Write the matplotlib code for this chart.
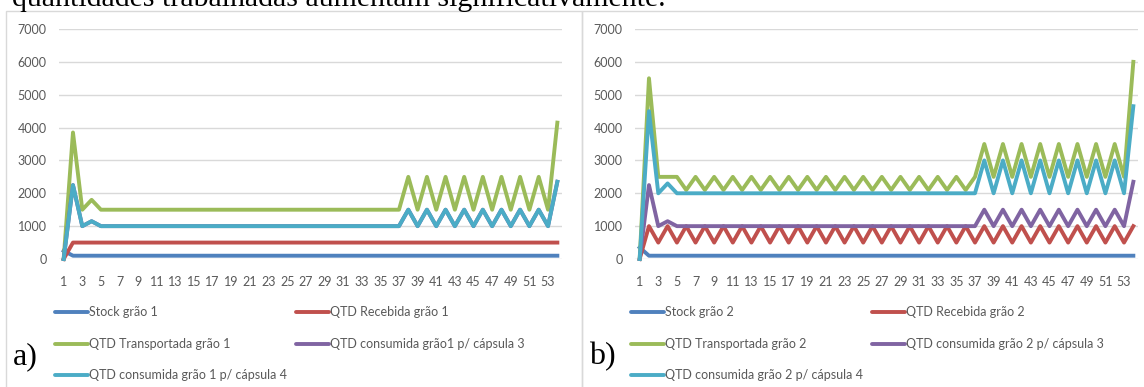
import matplotlib
matplotlib.use("Agg")
import matplotlib.pyplot as plt
from matplotlib.patches import Rectangle
from matplotlib.lines import Line2D

# dados (semanas 1..54)
semanas = list(range(1, 55))
yticks = [0, 1000, 2000, 3000, 4000, 5000, 6000, 7000]
xticks = list(range(1, 54, 2))

stock1 = [250, 100, 100, 100, 100, 100, 100, 100, 100, 100, 100, 100, 100, 100, 100, 100, 100, 100,
          100, 100, 100, 100, 100, 100, 100, 100, 100, 100, 100, 100, 100, 100, 100, 100, 100, 100,
          100, 100, 100, 100, 100, 100, 100, 100, 100, 100, 100, 100, 100, 100, 100, 100, 100, 100]
receb1 = [0, 500, 500, 500, 500, 500, 500, 500, 500, 500, 500, 500, 500, 500, 500, 500, 500, 500,
          500, 500, 500, 500, 500, 500, 500, 500, 500, 500, 500, 500, 500, 500, 500, 500, 500, 500,
          500, 500, 500, 500, 500, 500, 500, 500, 500, 500, 500, 500, 500, 500, 500, 500, 500, 500]
transp1 = [0, 3850, 1500, 1800, 1500, 1500, 1500, 1500, 1500, 1500, 1500, 1500, 1500, 1500, 1500, 1500, 1500, 1500,
           1500, 1500, 1500, 1500, 1500, 1500, 1500, 1500, 1500, 1500, 1500, 1500, 1500, 1500, 1500, 1500, 1500, 1500,
           1500, 2500, 1500, 2500, 1500, 2500, 1500, 2500, 1500, 2500, 1500, 2500, 1500, 2500, 1500, 2500, 1500, 4150]
cons3_1 = [0, 2250, 1000, 1150, 1000, 1000, 1000, 1000, 1000, 1000, 1000, 1000, 1000, 1000, 1000, 1000, 1000, 1000,
           1000, 1000, 1000, 1000, 1000, 1000, 1000, 1000, 1000, 1000, 1000, 1000, 1000, 1000, 1000, 1000, 1000, 1000,
           1000, 1500, 1000, 1500, 1000, 1500, 1000, 1500, 1000, 1500, 1000, 1500, 1000, 1500, 1000, 1500, 1000, 2350]
cons4_1 = [0, 2250, 1000, 1150, 1000, 1000, 1000, 1000, 1000, 1000, 1000, 1000, 1000, 1000, 1000, 1000, 1000, 1000,
           1000, 1000, 1000, 1000, 1000, 1000, 1000, 1000, 1000, 1000, 1000, 1000, 1000, 1000, 1000, 1000, 1000, 1000,
           1000, 1500, 1000, 1500, 1000, 1500, 1000, 1500, 1000, 1500, 1000, 1500, 1000, 1500, 1000, 1500, 1000, 2350]

stock2 = [350, 100, 100, 100, 100, 100, 100, 100, 100, 100, 100, 100, 100, 100, 100, 100, 100, 100,
          100, 100, 100, 100, 100, 100, 100, 100, 100, 100, 100, 100, 100, 100, 100, 100, 100, 100,
          100, 100, 100, 100, 100, 100, 100, 100, 100, 100, 100, 100, 100, 100, 100, 100, 100, 100]
receb2 = [0, 1000, 500, 1000, 500, 1000, 500, 1000, 500, 1000, 500, 1000, 500, 1000, 500, 1000, 500, 1000,
          500, 1000, 500, 1000, 500, 1000, 500, 1000, 500, 1000, 500, 1000, 500, 1000, 500, 1000, 500, 1000,
          500, 1000, 500, 1000, 500, 1000, 500, 1000, 500, 1000, 500, 1000, 500, 1000, 500, 1000, 500, 1000]
transp2 = [0, 5500, 2500, 2500, 2500, 2100, 2500, 2100, 2500, 2100, 2500, 2100, 2500, 2100, 2500, 2100, 2500, 2100,
           2500, 2100, 2500, 2100, 2500, 2100, 2500, 2100, 2500, 2100, 2500, 2100, 2500, 2100, 2500, 2100, 2500, 2100,
           2500, 3500, 2500, 3500, 2500, 3500, 2500, 3500, 2500, 3500, 2500, 3500, 2500, 3500, 2500, 3500, 2500, 6000]
cons3_2 = [0, 2250, 1000, 1150, 1000, 1000, 1000, 1000, 1000, 1000, 1000, 1000, 1000, 1000, 1000, 1000, 1000, 1000,
           1000, 1000, 1000, 1000, 1000, 1000, 1000, 1000, 1000, 1000, 1000, 1000, 1000, 1000, 1000, 1000, 1000, 1000,
           1000, 1500, 1000, 1500, 1000, 1500, 1000, 1500, 1000, 1500, 1000, 1500, 1000, 1500, 1000, 1500, 1000, 2350]
cons4_2 = [0, 4500, 2000, 2300, 2000, 2000, 2000, 2000, 2000, 2000, 2000, 2000, 2000, 2000, 2000, 2000, 2000, 2000,
           2000, 2000, 2000, 2000, 2000, 2000, 2000, 2000, 2000, 2000, 2000, 2000, 2000, 2000, 2000, 2000, 2000, 2000,
           2000, 3000, 2000, 3000, 2000, 3000, 2000, 3000, 2000, 3000, 2000, 3000, 2000, 3000, 2000, 3000, 2000, 4650]

nomes1 = ['Stock grão 1', 'QTD Recebida grão 1', 'QTD Transportada grão 1',
          'QTD consumida grão1 p/ cápsula 3', 'QTD consumida grão 1 p/ cápsula 4']
nomes2 = ['Stock grão 2', 'QTD Recebida grão 2', 'QTD Transportada grão 2',
          'QTD consumida grão 2 p/ cápsula 3', 'QTD consumida grão 2 p/ cápsula 4']
cores = ['#4F81BD', '#C0504D', '#9BBB59', '#8064A2', '#4BACC6']

plt.rcParams['font.family'] = ['Lato', 'DejaVu Sans']
cinza = '#595959'

W, H = 1144, 387
fig = plt.figure(figsize=(W / 100, H / 100), dpi=100)


def fx(px):
    return px / W


def fy(py):
    return 1 - py / H


def painel(x0, series, nomes, letra):
    # moldura do grafico
    fig.add_artist(Rectangle((fx(x0 - 53), fy(420)), 576 / W, 409 / H, transform=fig.transFigure,
                             fill=False, ec='#d9d9d9', lw=1))
    ax = fig.add_axes([fx(x0), fy(259), 503 / W, 230 / H])
    for s, c in zip(series, cores):
        ax.plot(semanas, s, color=c, lw=2.8, solid_joinstyle='round', clip_on=False, zorder=3)
    ax.set_xlim(0.5, 54.5)
    ax.set_ylim(0, 7000)
    ax.set_yticks(yticks)
    ax.set_xticks(xticks)
    ax.grid(axis='y', color='#d9d9d9', lw=1)
    ax.set_axisbelow(True)
    for sp in ax.spines.values():
        sp.set_visible(False)
    ax.tick_params(axis='y', length=0, pad=9, labelsize=9, labelcolor=cinza)
    ax.tick_params(axis='x', length=0, pad=12, labelsize=9, labelcolor=cinza)

    # legenda em duas colunas (estilo Excel)
    pos = [(0, 0), (1, 0), (0, 1), (1, 1), (0, 2)]
    for (col, lin), nome, c in zip(pos, nomes, cores):
        lx = x0 - 4 + col * 241
        ly = 312 + lin * 31.5
        fig.add_artist(Line2D([fx(lx), fx(lx + 33)], [fy(ly), fy(ly)], transform=fig.transFigure,
                              color=c, lw=2.8, solid_capstyle='round'))
        fig.text(fx(lx + 34), fy(ly), nome, fontsize=9, color=cinza, va='center', ha='left')
    fig.text(fx(x0 - 46), fy(364), letra, fontsize=23, family='Liberation Serif',
             va='baseline', ha='left')
    return ax


painel(59, [stock1, receb1, transp1, cons3_1, cons4_1], nomes1, 'a)')
painel(635, [stock2, receb2, transp2, cons3_2, cons4_2], nomes2, 'b)')

# texto do documento cortado no topo
fig.text(fx(12), fy(6), 'quantidades trabalhadas aumentam significativamente.',
         fontsize=21.5, family='Liberation Serif', va='baseline', ha='left')

fig.savefig('out.png', dpi=100)
